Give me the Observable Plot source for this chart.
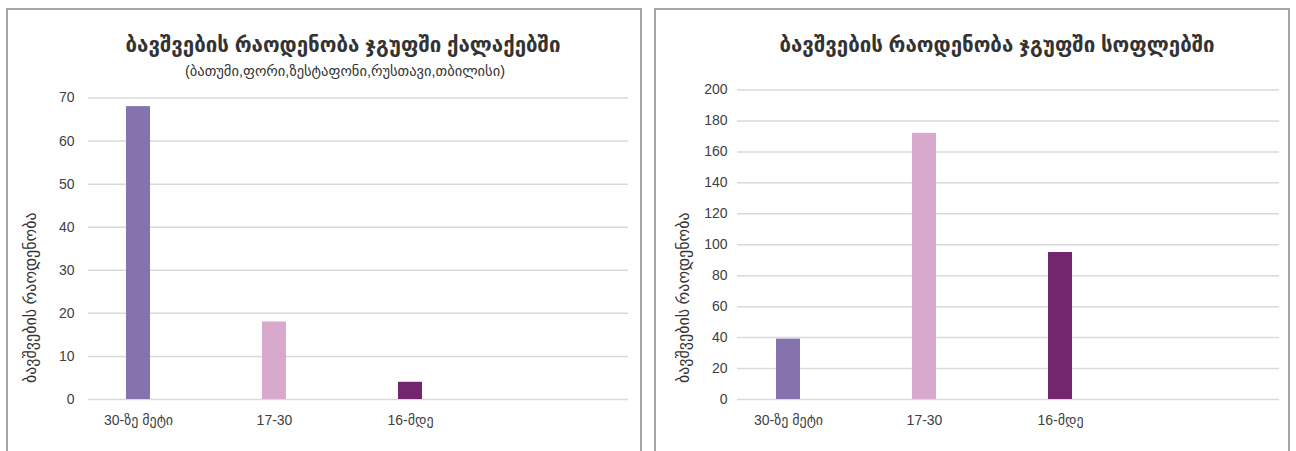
<!DOCTYPE html>
<html>
<head>
<meta charset="utf-8">
<script src="https://cdn.jsdelivr.net/npm/d3@7"></script>
<script src="https://cdn.jsdelivr.net/npm/@observablehq/plot@0.6"></script>
<style>
  html, body { margin: 0; padding: 0; background: #fff; overflow: hidden; }
  body { width: 1296px; height: 451px; position: relative; font-family: "Liberation Sans", "DejaVu Sans", sans-serif; }
  .panel { position: absolute; top: 8px; width: 632px; height: 470px; border: 2px solid #a6a6a6; background: #fff; }
  .panel svg { position: absolute; left: 0; top: 0; }
  .title { position: absolute; transform: translate(-50%, -50%); white-space: nowrap; font-weight: bold; font-size: 20.5px; color: #333; }
  .subtitle { position: absolute; transform: translate(-50%, -50%); white-space: nowrap; font-size: 14.5px; color: #333; }
</style>
</head>
<body>
<div class="panel" id="p1" style="left:6px"></div>
<div class="panel" id="p2" style="left:654px"></div>
<script>
const categories = ["30-ზე მეტი", "17-30", "16-მდე"];
const cityValues = [68, 18, 4];
const villageValues = [39, 172, 95];
const barColors = ["#8673ae", "#d8a9cd", "#73266e"];
const cityTicks = [0, 10, 20, 30, 40, 50, 60, 70];
const villageTicks = [0, 20, 40, 60, 80, 100, 120, 140, 160, 180, 200];
const cityTitle = "ბავშვების რაოდენობა ჯგუფში ქალაქებში";
const citySubtitle = "(ბათუმი,ფორი,ზესტაფონი,რუსთავი,თბილისი)";
const villageTitle = "ბავშვების რაოდენობა ჯგუფში სოფლებში";
const yTitle = "ბავშვების რაოდენობა";

function makeChart(values, ticks, opts) {
  const data = categories.map((c, i) => ({cat: c, value: values[i]}));
  return Plot.plot({
    width: 632,
    height: 441,
    marginLeft: opts.ml,
    marginRight: opts.mr,
    marginTop: opts.mt,
    marginBottom: 52,
    style: {fontFamily: '"Liberation Sans", "DejaVu Sans", sans-serif', fontSize: "14px", color: "#404040", background: "transparent", overflow: "visible"},
    x: {domain: categories, range: opts.xr, padding: 0},
    y: {domain: [0, ticks[ticks.length - 1]]},
    color: {domain: categories, range: barColors},
    marks: [
      Plot.ruleY(ticks, {stroke: "#d9d9d9", strokeWidth: 1.5}),
      Plot.barY(data, {x: "cat", y: "value", fill: "cat", insetLeft: 56, insetRight: 56}),
      Plot.axisY(ticks, {tickSize: 0, tickPadding: opts.tp, label: null, fontSize: 14}),
      Plot.axisX({tickSize: 0, tickPadding: 16, label: null, fontSize: 14}),
      Plot.text([yTitle], {frameAnchor: "left", textAnchor: "middle", rotate: -90, dx: opts.ldx, dy: opts.ldy, fill: "#333", fontSize: 16})
    ]
  });
}

const p1 = document.getElementById("p1");
p1.appendChild(makeChart(cityValues, cityTicks, {ml: 80, mr: 12, mt: 87.5, xr: [62, 470], tp: 14, ldx: -58, ldy: 49}));
const t1 = document.createElement("div"); t1.className = "title"; t1.textContent = cityTitle;
t1.style.left = "335px"; t1.style.top = "35px"; p1.appendChild(t1);
const s1 = document.createElement("div"); s1.className = "subtitle"; s1.textContent = citySubtitle;
s1.style.left = "337px"; s1.style.top = "61px"; p1.appendChild(s1);

const p2 = document.getElementById("p2");
p2.appendChild(makeChart(villageValues, villageTicks, {ml: 81, mr: 9, mt: 79.5, xr: [64, 472], tp: 10, ldx: -54, ldy: 53}));
const t2 = document.createElement("div"); t2.className = "title"; t2.textContent = villageTitle;
t2.style.left = "341px"; t2.style.top = "35px"; p2.appendChild(t2);
</script>
</body>
</html>
